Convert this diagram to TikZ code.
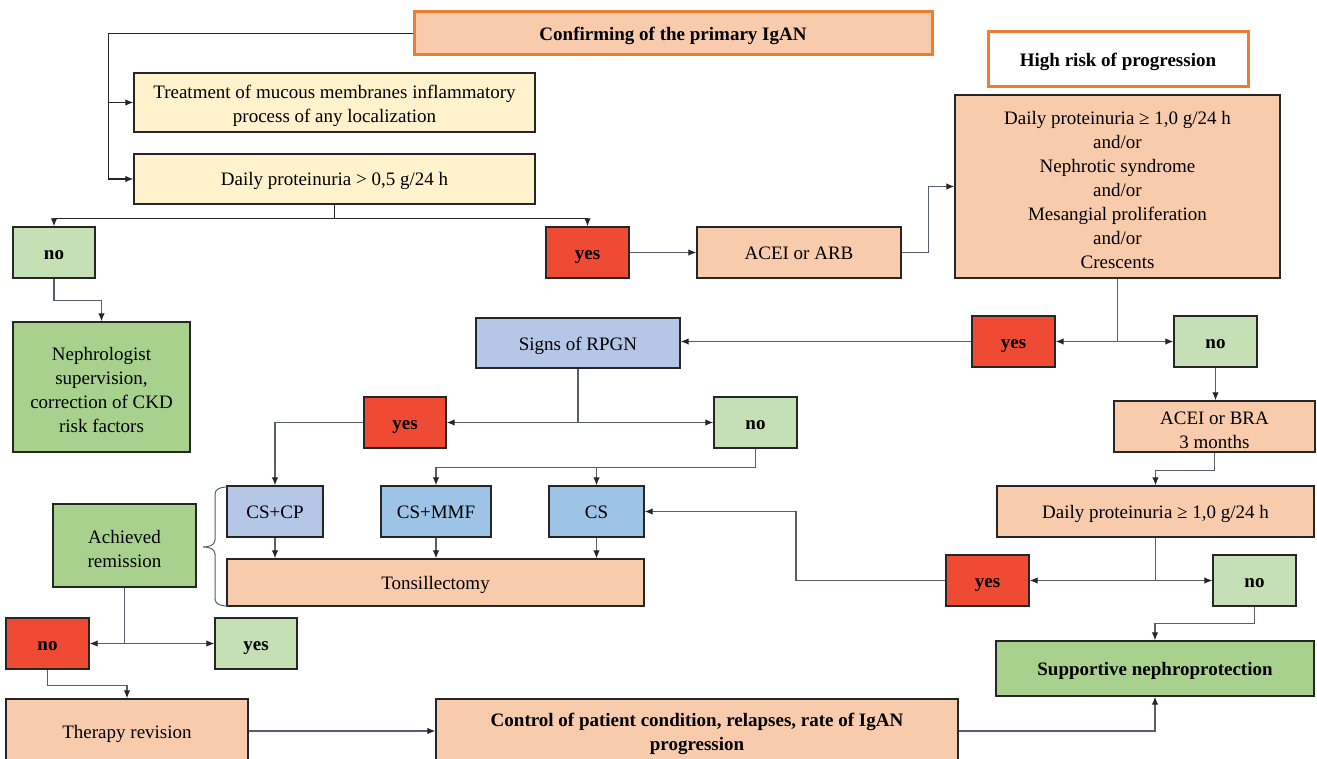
\documentclass[tikz,border=0pt]{standalone}
\usepackage{fontspec}
\setmainfont{Liberation Serif}
\usetikzlibrary{arrows.meta}
\definecolor{peach}{RGB}{248,203,173}
\definecolor{lyellow}{RGB}{255,242,204}
\definecolor{lgreen}{RGB}{197,224,180}
\definecolor{mgreen}{RGB}{169,209,142}
\definecolor{myred}{RGB}{238,74,52}
\definecolor{lblue}{RGB}{180,199,231}
\definecolor{mblue}{RGB}{157,195,230}
\definecolor{orangeb}{RGB}{237,125,49}
\definecolor{boxline}{RGB}{38,38,38}
\definecolor{connc}{RGB}{84,96,108}
\newcommand{\tstrut}{\rule{0pt}{20pt}}
\tikzset{
  bx/.style={draw=boxline, line width=1.3pt, inner sep=0pt, align=center,
    font=\fontsize{19}{24}\selectfont},
  one/.style={text height=17pt, text depth=3pt},
  bbx/.style={bx, font=\fontsize{19}{24}\selectfont\bfseries},
  obx/.style={draw=orangeb, line width=3pt, inner sep=0pt, align=center,
    font=\fontsize{19}{24}\selectfont\bfseries, one},
  conn/.style={draw=connc, line width=1.2pt},
  arr/.style={conn, -{Latex[length=8pt,width=6.5pt,color=black!85]}},
  bracel/.style={draw=connc, line width=1pt}
}
\begin{document}
\begin{tikzpicture}[x=1pt,y=-1pt]
\useasboundingbox (0,0) rectangle (1317,759);
\clip (0,0) rectangle (1317,759);
\fill[white] (0,0) rectangle (1317,759);

% top
\node[obx, fill=peach, minimum width=518pt, minimum height=43pt] (confirm) at (673,33.5) {Confirming of the primary IgAN};
\node[obx, fill=white, minimum width=260pt, minimum height=55pt] (highrisk) at (1118,59.5) {High risk of progression};
\node[bx, fill=lyellow, minimum width=401pt, minimum height=59pt] (treat) at (334.5,102.5) {\tstrut Treatment of mucous membranes inflammatory\\process of any localization};
\node[bx, one, fill=lyellow, minimum width=401pt, minimum height=50pt] (dp05) at (334.5,179) {Daily proteinuria > 0,5 g/24 h};
\node[bbx, one, fill=lgreen, minimum width=82pt, minimum height=51pt] (no1) at (54,252.5) {no};
\node[bbx, one, fill=myred, minimum width=83pt, minimum height=51pt] (yes1) at (587.5,252.5) {yes};
\node[bx, one, fill=peach, minimum width=204pt, minimum height=51pt] (acei) at (799,252.5) {ACEI or ARB};
\node[bx, fill=peach, minimum width=325pt, minimum height=183pt] (crit) at (1117.5,186.5) {\tstrut Daily proteinuria ≥ 1,0 g/24 h\\and/or\\Nephrotic syndrome\\and/or\\Mesangial proliferation\\and/or\\Crescents};

% middle
\node[bx, fill=mgreen, minimum width=177pt, minimum height=130pt] (neph) at (101.5,387) {\tstrut Nephrologist\\supervision,\\correction of CKD\\risk factors};
\node[bx, one, fill=lblue, minimum width=204pt, minimum height=50pt] (rpgn) at (578,343) {Signs of RPGN};
\node[bbx, one, fill=myred, minimum width=83pt, minimum height=51pt] (yes2) at (1013.5,341.5) {yes};
\node[bbx, one, fill=lgreen, minimum width=83pt, minimum height=51pt] (no2) at (1215.5,341.5) {no};
\node[bbx, one, fill=myred, minimum width=82pt, minimum height=51pt] (yes3) at (405,422.5) {yes};
\node[bbx, one, fill=lgreen, minimum width=83pt, minimum height=51pt] (no3) at (755.5,422.5) {no};
\node[bx, fill=peach, minimum width=201pt, minimum height=51pt] (bra) at (1214.5,426.5) {\tstrut ACEI or BRA\\3 months};

% treatments
\node[bx, one, fill=lblue, minimum width=96pt, minimum height=51pt] (cscp) at (275,511.5) {CS+CP};
\node[bx, one, fill=mblue, minimum width=110pt, minimum height=51pt] (csmmf) at (436,511.5) {CS+MMF};
\node[bx, one, fill=mblue, minimum width=95pt, minimum height=51pt] (cs) at (596.5,511.5) {CS};
\node[bx, one, fill=peach, minimum width=417pt, minimum height=47pt] (tons) at (435.5,582.5) {Tonsillectomy};
\node[bx, fill=mgreen, minimum width=143pt, minimum height=83pt] (ach) at (124.5,545.5) {\tstrut Achieved\\remission};
\node[bx, one, fill=peach, minimum width=317pt, minimum height=51pt] (dp10) at (1155.5,511.5) {Daily proteinuria ≥ 1,0 g/24 h};
\node[bbx, one, fill=myred, minimum width=83pt, minimum height=51pt] (yes4) at (987.5,580.5) {yes};
\node[bbx, one, fill=lgreen, minimum width=83pt, minimum height=51pt] (no4) at (1254.5,580.5) {no};
\node[bbx, one, fill=mgreen, minimum width=318pt, minimum height=55pt] (supp) at (1155,668.5) {Supportive nephroprotection};

% bottom
\node[bbx, one, fill=myred, minimum width=83pt, minimum height=51pt] (no5) at (47.5,643.5) {no};
\node[bbx, one, fill=lgreen, minimum width=82pt, minimum height=51pt] (yes5) at (256,643.5) {yes};
\node[bx, one, fill=peach, minimum width=242pt, minimum height=64pt] (ther) at (127,731) {Therapy revision};
\node[bbx, fill=peach, minimum width=522pt, minimum height=64pt] (control) at (697,731) {\tstrut Control of patient condition, relapses, rate of IgAN\\progression};

% brace
\draw[bracel] (227,487) to[out=180,in=90] (215,494) -- (215,540) to[out=-90,in=0] (203,547) to[out=0,in=90] (215,554) -- (215,599) to[out=-90,in=180] (227,606);

% connectors
\draw[conn, draw=black!85] (confirm.west) -| ([xshift=-25pt]dp05.west);
\draw[arr, draw=black!85] ([xshift=-25pt]treat.west) -- (treat.west);
\draw[arr, draw=black!85] ([xshift=-25pt]dp05.west) -- (dp05.west);
\draw[arr, draw=black!85] (dp05.south) -- ++(0,14) -| (no1.north);
\draw[arr, draw=black!85] (dp05.south) -- ++(0,14) -| (yes1.north);
\draw[arr] (yes1.east) -- (acei.west);
\draw[arr] (acei.east) -- ++(27,0) |- (crit.west);
\draw[arr] (no1.south) -- ++(0,22) -| (neph.north);
\draw[arr] (crit.south) |- (yes2.east);
\draw[arr] (crit.south) |- (no2.west);
\draw[arr] (yes2.west) -- (yes2.west -| rpgn.east);
\draw[arr] (no2.south) -- (no2.south |- bra.north);
\draw[arr] (bra.south) -- ++(0,18) -| (dp10.north);
\draw[arr] (rpgn.south) |- (yes3.east);
\draw[arr] (rpgn.south) |- (no3.west);
\draw[arr] (yes3.west) -| (cscp.north);
\draw[arr] (no3.south) -- ++(0,19) -| (csmmf.north);
\draw[arr] (no3.south) -- ++(0,19) -| (cs.north);
\draw[arr] (cscp.south) -- (cscp.south |- tons.north);
\draw[arr] (csmmf.south) -- (csmmf.south |- tons.north);
\draw[arr] (cs.south) -- (cs.south |- tons.north);
\draw[arr] (dp10.south) |- (yes4.east);
\draw[arr] (dp10.south) |- (no4.west);
\coordinate (ycorner) at (796,511.5);
\draw[arr] (yes4.west) -| (ycorner) -- (cs.east);
\draw[arr] (no4.south) -- ++(0,17) -| (supp.north);
\draw[arr] (control.east) -| (supp.south);
\draw[arr] (ach.south) |- (no5.east);
\draw[arr] (ach.south) |- (yes5.west);
\draw[arr] (no5.south) -- ++(0,16) -| (ther.north);
\draw[arr] (ther.east) -- (control.west);
\end{tikzpicture}
\end{document}
